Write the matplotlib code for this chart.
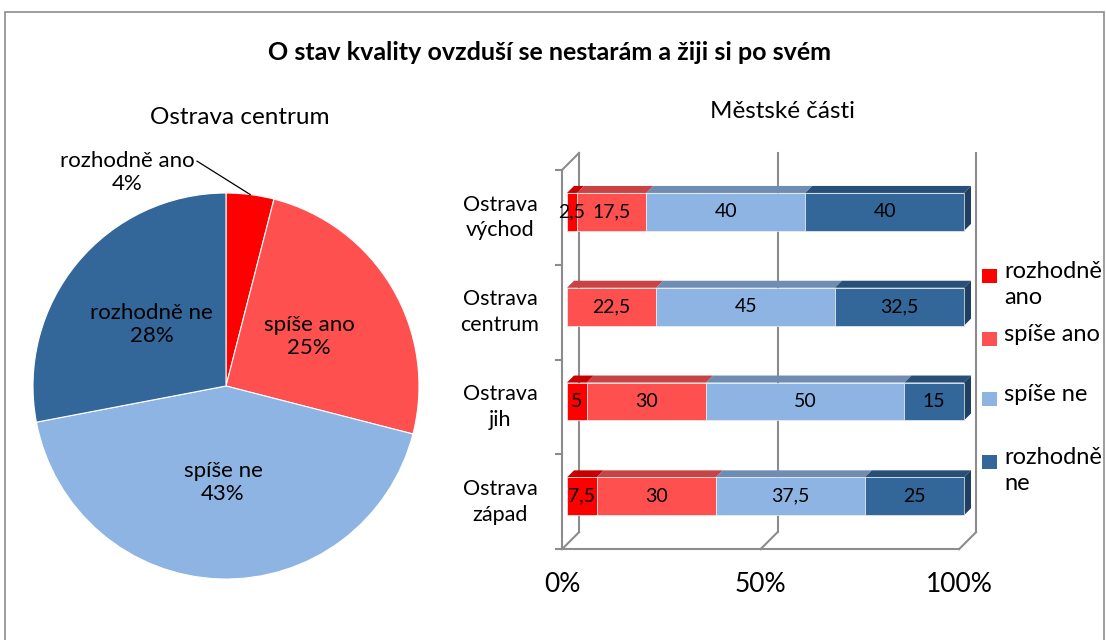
import matplotlib
matplotlib.use("Agg")
import matplotlib.pyplot as plt
from matplotlib.patches import Polygon, Rectangle
import numpy as np

plt.rcParams['font.family'] = ['Lato', 'DejaVu Sans']

# ---------------- data ----------------
title = "O stav kvality ovzduší se nestarám a žiji si po svém"
pie_title = "Ostrava centrum"
bar_title = "Městské části"
answers = ["rozhodně ano", "spíše ano", "spíše ne", "rozhodně ne"]
legend_labels = ["rozhodně\nano", "spíše ano", "spíše ne", "rozhodně\nne"]
colors = ["#FF0000", "#FF5050", "#8DB4E2", "#336699"]
top_colors = ["#C80000", "#C84444", "#6F8DB3", "#274F78"]
side_color = "#1F3F60"

pie_values = [4, 25, 43, 28]

districts = ["Ostrava\nvýchod", "Ostrava\ncentrum", "Ostrava\njih", "Ostrava\nzápad"]
rozhodne_ano = [2.5, 0, 5, 7.5]
spise_ano = [17.5, 22.5, 30, 30]
spise_ne = [40, 45, 50, 37.5]
rozhodne_ne = [40, 32.5, 15, 25]
series = [rozhodne_ano, spise_ano, spise_ne, rozhodne_ne]
xticks = [0, 50, 100]
xticklabels = ["0%", "50%", "100%"]

W, H = 1106, 640
fig = plt.figure(figsize=(W / 100, H / 100), dpi=100)


def px_axes(left, top, right, bottom):
    return fig.add_axes([left / W, 1 - bottom / H, (right - left) / W, (bottom - top) / H])


# outer border
fig.patches.append(Rectangle((4.5 / W, -0.1), (1103.5 - 4.5) / W, 1 - 11.5 / H + 0.1,
                             transform=fig.transFigure, fill=False, edgecolor="#8C8C8C", lw=1.2))

fig.text(549 / W, 1 - 52 / H, title, ha="center", va="center", fontsize=18, fontweight="bold")

# ---------------- pie ----------------
cx, cy, r, L = 226, 386, 193, 1.1
half = r * L
pax = px_axes(cx - half, cy - half, cx + half, cy + half)
wedges, _ = pax.pie(pie_values, colors=colors, startangle=90, counterclock=False,
                    wedgeprops=dict(edgecolor="white", linewidth=0.8))
pax.set_xlim(-L, L)
pax.set_ylim(-L, L)
pax.set_aspect("equal")
pax.axis("off")
fig.text(240 / W, 1 - 118 / H, pie_title, ha="center", va="center", fontsize=17.5)

for i, (w, v) in enumerate(zip(wedges, pie_values)):
    mid = np.deg2rad((w.theta1 + w.theta2) / 2)
    if i == 0:
        ex, ey = np.cos(mid), np.sin(mid)
        pax.plot([-0.15, ex], [1.165, ey], color="black", lw=0.9, clip_on=False)
        pax.text(-0.51, 1.107, f"{answers[i]}\n{v}%", ha="center", va="center",
                 fontsize=16, linespacing=1.2)
    else:
        d = 0.5
        pax.text(d * np.cos(mid), d * np.sin(mid), f"{answers[i]}\n{v}%", ha="center",
                 va="center", fontsize=16, linespacing=1.2)

# ---------------- 3D-like stacked bars ----------------
X0, X100 = 567, 964
C0, CS = 211.9, 94.8
ux = (X100 - X0) / 100.0
xlim = (-7, 107)
ylim = (3.7, -0.8)
bax = px_axes(X0 + xlim[0] * ux, C0 + ylim[1] * CS, X0 + xlim[1] * ux, C0 + ylim[0] * CS)
bax.set_xlim(*xlim)
bax.set_ylim(*ylim)
bax.axis("off")
uy = CS


def P(x, y, k):
    """data point at depth k px (0 = front of floor, 5 = front of bars)"""
    return x + (k - 5) / ux, y - (k - 5.5) / uy


grid_c = "#8C8C8C"
n = len(districts)
ytop, ybot = -0.5, n - 0.5
# back wall gridlines
for xt in xticks:
    bax.plot(*zip(P(xt, ybot, 17), P(xt, ytop, 17)), color=grid_c, lw=1.5, zorder=1)
    bax.plot(*zip(P(xt, ybot, 0), P(xt, ybot, 17)), color=grid_c, lw=1.5, zorder=1)
# floor front and left wall
bax.plot(*zip(P(0, ybot, 0), P(100, ybot, 0)), color=grid_c, lw=1.5, zorder=1)
bax.plot(*zip(P(0, ybot, 0), P(0, ytop, 0)), color=grid_c, lw=1.5, zorder=1)
bax.plot(*zip(P(0, ytop, 0), P(0, ytop, 17)), color=grid_c, lw=1.5, zorder=1)
for e in np.arange(ytop, ybot + 0.01, 1.0):
    a = P(0, e, 0)
    bax.plot([a[0], a[0] - 6 / ux], [a[1], a[1]], color=grid_c, lw=1.5, zorder=1)
for xt, lab in zip(xticks, xticklabels):
    a = P(xt, ybot, 0)
    bax.text(a[0], a[1] + 23 / uy, lab, ha="center", va="top", fontsize=19)

# category labels
for i, lab in enumerate(districts):
    a = P(0, i, 0)
    bax.text((500 - X0) / ux, a[1], lab, ha="center", va="center",
             fontsize=15.5, linespacing=1.35)

h = 0.40
dep = 7
y = np.arange(n)
left = np.zeros(n)
for s, vals in enumerate(series):
    vals = np.array(vals, dtype=float)
    bax.barh(y, vals, left=left, height=h, color=colors[s], edgecolor="#F0F0F0",
             linewidth=0.5, zorder=3)
    for i in range(n):
        if vals[i] <= 0:
            continue
        x0, x1 = left[i], left[i] + vals[i]
        yt = y[i] - h / 2
        top = [(x0, yt), (x1, yt), (x1 + dep / ux, yt - dep / uy), (x0 + dep / ux, yt - dep / uy)]
        bax.add_patch(Polygon(top, closed=True, facecolor=top_colors[s], edgecolor="none", zorder=2))
        lab = f"{vals[i]:g}".replace(".", ",")
        bax.text((x0 + x1) / 2, y[i], lab, ha="center", va="center", fontsize=14, zorder=5)
    left = left + vals
# right end side faces
for i in range(n):
    x1 = left[i]
    yt, yb = y[i] - h / 2, y[i] + h / 2
    side = [(x1, yt), (x1 + dep / ux, yt - dep / uy), (x1 + dep / ux, yb - dep / uy), (x1, yb)]
    bax.add_patch(Polygon(side, closed=True, facecolor=side_color, edgecolor="none", zorder=2))

fig.text(782 / W, 1 - 111 / H, bar_title, ha="center", va="center", fontsize=17.5)

# legend
leg_y = [276, 339, 399, 462]
for lab, c, ly in zip(legend_labels, colors, leg_y):
    fig.patches.append(Rectangle((982 / W, 1 - (ly + 7) / H), 15 / W, 14 / H,
                                 transform=fig.transFigure, facecolor=c, edgecolor="none"))
    fig.text(1004 / W, 1 - (ly - 15) / H, lab, ha="left", va="top", fontsize=17,
             linespacing=1.27)

fig.savefig("out.png", dpi=100)
